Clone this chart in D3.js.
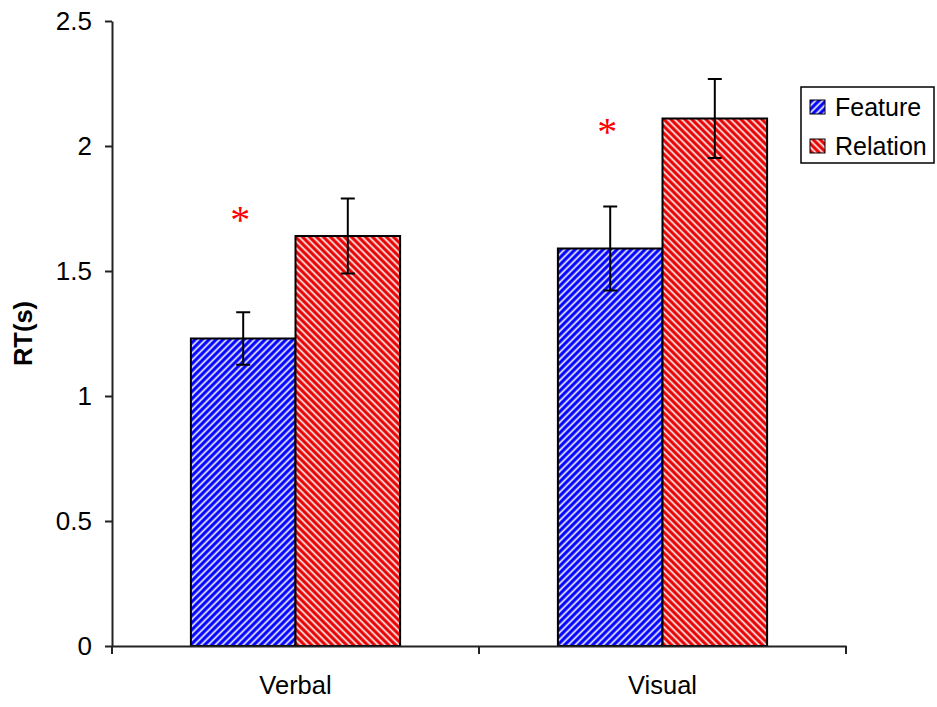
<!DOCTYPE html>
<html>
<head>
<meta charset="utf-8">
<script src="https://cdn.jsdelivr.net/npm/d3@7"></script>
<style>
  html, body { margin: 0; padding: 0; background: #fff; }
  svg text { font-family: "Liberation Sans", Arial, sans-serif; fill: #000; }
</style>
</head>
<body>
<svg id="chart" width="937" height="707"></svg>
<script>
// Reaction times by task type and condition
const categories = ["Verbal", "Visual"];
const seriesNames = ["Feature", "Relation"];
const featureRT = [1.23, 1.59];
const relationRT = [1.64, 2.11];
const featureErr = [0.105, 0.168];
const relationErr = [0.15, 0.158];
const yTicks = [0, 0.5, 1, 1.5, 2, 2.5];
const sigLevel = [1.73, 2.08];   // height of the significance asterisk per category

const svg = d3.select("#chart");

const x0 = d3.scaleBand().domain(categories).range([112, 846]).padding(0);
const groupFrac = 0.57;
const bw = x0.bandwidth();
const x1 = d3.scaleBand().domain(seriesNames)
  .range([bw * (1 - groupFrac) / 2, bw * (1 + groupFrac) / 2]).padding(0);
const y = d3.scaleLinear().domain([0, 2.5]).range([646, 21]);

// striped fills
const defs = svg.append("defs");
function stripes(id, color, edge, angle) {
  const w = 4.95;
  const p = defs.append("pattern").attr("id", id)
    .attr("patternUnits", "userSpaceOnUse")
    .attr("width", w).attr("height", 10)
    .attr("patternTransform", `rotate(${angle})`);
  p.append("rect").attr("width", w).attr("height", 10).attr("fill", "#fff");
  p.append("rect").attr("x", 0).attr("width", 3.7).attr("height", 10).attr("fill", edge);
  p.append("rect").attr("x", 0.5).attr("width", 2.7).attr("height", 10).attr("fill", color);
}
stripes("hatchFeature", "#0000ff", "#7070ff", 45);
stripes("hatchRelation", "#e80000", "#f07070", -45);
const fills = { Feature: "url(#hatchFeature)", Relation: "url(#hatchRelation)" };

const rows = categories.map((c, i) => ({
  cat: c,
  vals: [
    { s: "Feature", v: featureRT[i], e: featureErr[i] },
    { s: "Relation", v: relationRT[i], e: relationErr[i] }
  ],
  sig: sigLevel[i]
}));

// bars
const groups = svg.selectAll("g.grp").data(rows).join("g")
  .attr("class", "grp")
  .attr("transform", d => `translate(${x0(d.cat)},0)`);

groups.selectAll("rect.bar").data(d => d.vals).join("rect")
  .attr("class", "bar")
  .attr("x", d => x1(d.s))
  .attr("width", x1.bandwidth())
  .attr("y", d => y(d.v))
  .attr("height", d => y(0) - y(d.v))
  .attr("fill", d => fills[d.s])
  .attr("stroke", "#000").attr("stroke-width", 2);

// error bars
const capW = 7;
const eb = groups.selectAll("g.err").data(d => d.vals).join("g").attr("class", "err")
  .attr("stroke", "#000").attr("stroke-width", 2);
eb.append("line")
  .attr("x1", d => x1(d.s) + x1.bandwidth() / 2).attr("x2", d => x1(d.s) + x1.bandwidth() / 2)
  .attr("y1", d => y(d.v + d.e)).attr("y2", d => y(d.v - d.e));
eb.append("line")
  .attr("x1", d => x1(d.s) + x1.bandwidth() / 2 - capW).attr("x2", d => x1(d.s) + x1.bandwidth() / 2 + capW)
  .attr("y1", d => y(d.v + d.e)).attr("y2", d => y(d.v + d.e));
eb.append("line")
  .attr("x1", d => x1(d.s) + x1.bandwidth() / 2 - capW).attr("x2", d => x1(d.s) + x1.bandwidth() / 2 + capW)
  .attr("y1", d => y(d.v - d.e)).attr("y2", d => y(d.v - d.e));

// significance asterisks
groups.append("text")
  .attr("x", x1("Feature") + x1.bandwidth() / 2 - 3)
  .attr("y", d => y(d.sig))
  .attr("dy", "0.48em")
  .attr("text-anchor", "middle")
  .style("font-family", "'Liberation Serif', 'Times New Roman', serif")
  .style("font-size", "40px")
  .style("fill", "#ff0000")
  .text("*");

// y axis
const yAxis = svg.append("g").attr("transform", "translate(112,0)")
  .call(d3.axisLeft(y).tickValues(yTicks).tickSize(7).tickSizeOuter(0).tickPadding(13)
    .tickFormat(d3.format("")));
yAxis.select(".domain").attr("stroke", "#222").attr("stroke-width", 2);
yAxis.selectAll(".tick line").attr("stroke", "#222").attr("stroke-width", 2);
yAxis.selectAll(".tick text").style("font-size", "26px").style("font-family", "'Liberation Sans', Arial, sans-serif");

// x axis: baseline, category boundary ticks and labels
const xAxis = svg.append("g").attr("transform", `translate(0,${y(0)})`)
  .call(d3.axisBottom(x0).tickSize(0).tickSizeOuter(0).tickPadding(30));
xAxis.select(".domain").attr("stroke", "#222").attr("stroke-width", 2);
xAxis.selectAll(".tick text").style("font-size", "25.5px").style("font-family", "'Liberation Sans', Arial, sans-serif");
const bounds = categories.map(c => x0(c)).concat([x0.range()[1]]);
xAxis.selectAll("line.bound").data(bounds).join("line").attr("class", "bound")
  .attr("x1", d => d).attr("x2", d => d).attr("y1", 0).attr("y2", 8)
  .attr("stroke", "#222").attr("stroke-width", 2);

// y axis title
svg.append("text")
  .attr("transform", `translate(32,${(y(0) + y(2.5)) / 2}) rotate(-90)`)
  .attr("text-anchor", "middle")
  .style("font-size", "25.5px").style("font-weight", "bold")
  .text("RT(s)");

// legend
const lg = svg.append("g").attr("transform", "translate(801,87)");
lg.append("rect").attr("width", 133).attr("height", 76)
  .attr("fill", "#fff").attr("stroke", "#000").attr("stroke-width", 1.5);
const li = lg.selectAll("g.item").data(seriesNames).join("g").attr("class", "item")
  .attr("transform", (d, i) => `translate(9,${13 + i * 39})`);
li.append("rect").attr("width", 15).attr("height", 14)
  .attr("fill", d => fills[d]).attr("stroke", "#000").attr("stroke-width", 1);
li.append("text").attr("x", 25).attr("y", 7).attr("dy", "0.36em")
  .style("font-size", "25px").text(d => d);
</script>
</body>
</html>
